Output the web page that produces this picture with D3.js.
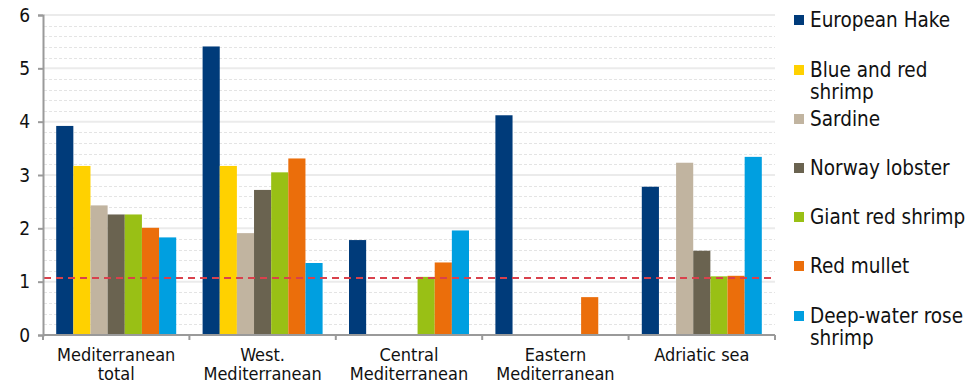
<!DOCTYPE html>
<html>
<head>
<meta charset="utf-8">
<script src="https://cdn.jsdelivr.net/npm/d3@7"></script>
<style>
  html, body { margin: 0; padding: 0; background: #fff; }
  svg { display: block; }
  text { font-family: "DejaVu Sans Condensed", "DejaVu Sans", sans-serif; fill: #111; }
</style>
</head>
<body>
<svg id="chart" width="970" height="383"></svg>
<script>
// Regions on the x axis (line breaks split with "|")
const regions = ["Mediterranean|total", "West.|Mediterranean", "Central|Mediterranean", "Eastern|Mediterranean", "Adriatic sea"];

// Species shown as bars within each region
const species = ["European Hake", "Blue and red shrimp", "Sardine", "Norway lobster", "Giant red shrimp", "Red mullet", "Deep-water rose shrimp"];
const speciesColors = ["#003b7a", "#ffd100", "#c1b4a0", "#6a6350", "#99c015", "#eb6e0b", "#009fe0"];

// Values per species, one entry per region (null = no data)
const hake        = [3.92, 5.41, 1.78, 4.12, 2.78];
const blueRed     = [3.17, 3.17, null, null, null];
const sardine     = [2.43, 1.91, null, null, 3.23];
const norway      = [2.26, 2.72, null, null, 1.58];
const giantRed    = [2.26, 3.05, 1.09, null, 1.10];
const redMullet   = [2.01, 3.31, 1.36, 0.71, 1.11];
const deepWater   = [1.83, 1.35, 1.96, null, 3.34];
const seriesValues = [hake, blueRed, sardine, norway, giantRed, redMullet, deepWater];

// Reference level drawn as a dashed line
const referenceLevel = 1.07;

// Y axis ticks
const yTicks = [0, 1, 2, 3, 4, 5, 6];

const svg = d3.select("#chart");
const plotLeft = 43, plotRight = 775, plotTop = 15, plotBottom = 335;

const x = d3.scaleBand().domain(regions).range([plotLeft, plotRight]).paddingInner(0).paddingOuter(0);
const xInner = d3.scaleBand().domain(species).range([0, x.bandwidth()]).paddingInner(0).paddingOuter(0.77);
const y = d3.scaleLinear().domain([0, 6]).range([plotBottom, plotTop]);

// Minor dashed gridlines every 0.2
const minor = d3.range(0, 6.001, 0.2).filter(v => Math.abs(v - Math.round(v)) > 1e-6);
svg.append("g").selectAll("line").data(minor).join("line")
  .attr("x1", plotLeft + 1).attr("x2", plotRight)
  .attr("y1", d => Math.round(y(d)) + 0.5).attr("y2", d => Math.round(y(d)) + 0.5)
  .attr("stroke", "#e4e4e4").attr("stroke-width", 1).attr("stroke-dasharray", "3,2");

// Major gridlines
svg.append("g").selectAll("line").data(yTicks.filter(d => d > 0)).join("line")
  .attr("x1", plotLeft + 1).attr("x2", plotRight)
  .attr("y1", d => y(d)).attr("y2", d => y(d))
  .attr("stroke", "#ebebeb").attr("stroke-width", 2);

// Bars
const rows = [];
regions.forEach((r, ri) => {
  species.forEach((s, si) => {
    const v = seriesValues[si][ri];
    if (v != null) rows.push({ region: r, species: s, value: v, color: speciesColors[si] });
  });
});
svg.append("g").selectAll("rect").data(rows).join("rect")
  .attr("x", d => x(d.region) + xInner(d.species))
  .attr("width", xInner.bandwidth())
  .attr("y", d => y(d.value))
  .attr("height", d => y(0) - y(d.value))
  .attr("fill", d => d.color);

// Reference dashed line
svg.append("line")
  .attr("x1", plotLeft + 1).attr("x2", plotRight)
  .attr("y1", y(referenceLevel)).attr("y2", y(referenceLevel))
  .attr("stroke", "#d9414c").attr("stroke-width", 2).attr("stroke-dasharray", "7,5");

// Y axis
const yAxis = d3.axisLeft(y).tickValues(yTicks).tickSize(5).tickPadding(8).tickFormat(d3.format("d"));
const gy = svg.append("g").attr("transform", `translate(${plotLeft},0)`).call(yAxis);
gy.select(".domain").attr("stroke", "#9a9a9a").attr("stroke-width", 2);
gy.selectAll(".tick line").attr("stroke", "#9a9a9a").attr("stroke-width", 2);
gy.selectAll(".tick text").style("font-size", "19px").attr("fill", "#111");

// X axis: ticks at region boundaries
const boundaries = regions.map(r => x(r)).concat([plotRight]);
svg.append("line").attr("x1", plotLeft).attr("x2", plotRight).attr("y1", plotBottom).attr("y2", plotBottom)
  .attr("stroke", "#9a9a9a").attr("stroke-width", 2);
svg.append("g").selectAll("line").data(boundaries).join("line")
  .attr("x1", d => d).attr("x2", d => d).attr("y1", plotBottom).attr("y2", plotBottom + 5)
  .attr("stroke", "#9a9a9a").attr("stroke-width", 2);

// Region labels
const lbl = svg.append("g").selectAll("text").data(regions).join("text")
  .attr("x", d => x(d) + x.bandwidth() / 2)
  .attr("y", 361)
  .attr("text-anchor", "middle")
  .style("font-size", "18px");
lbl.selectAll("tspan").data(d => d.split("|")).join("tspan")
  .attr("x", function () { return d3.select(this.parentNode).attr("x"); })
  .attr("dy", (d, i) => i === 0 ? 0 : 19)
  .text(d => d);

// Legend
const legendY = [20, 70, 119, 168, 217, 266, 316];
const legendLines = [["European Hake"], ["Blue and red", "shrimp"], ["Sardine"], ["Norway lobster"], ["Giant red shrimp"], ["Red mullet"], ["Deep-water rose", "shrimp"]];
const lg = svg.append("g").selectAll("g").data(species).join("g")
  .attr("transform", (d, i) => `translate(794,${legendY[i]})`);
lg.append("rect").attr("x", 0).attr("y", -5).attr("width", 10).attr("height", 10)
  .attr("fill", (d, i) => speciesColors[i]);
lg.append("text").attr("x", 16).attr("y", 7).style("font-size", "20.5px")
  .selectAll("tspan").data((d, i) => legendLines[i]).join("tspan")
  .attr("x", 16).attr("dy", (d, i) => i === 0 ? 0 : 22).text(d => d);
</script>
</body>
</html>
